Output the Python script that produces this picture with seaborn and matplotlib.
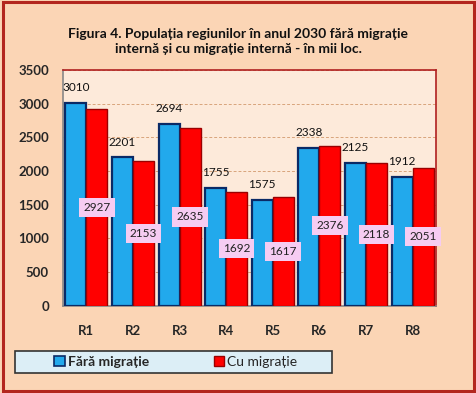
import pandas as pd
import matplotlib
matplotlib.use("Agg")
import matplotlib.pyplot as plt
from matplotlib.patches import Rectangle, Patch
import seaborn as sns

# === Data
regions = ["R1", "R2", "R3", "R4", "R5", "R6", "R7", "R8"]
fara_migratie = [3010, 2201, 2694, 1755, 1575, 2338, 2125, 1912]
cu_migratie = [2927, 2153, 2635, 1692, 1617, 2376, 2118, 2051]
series_names = ["Fără migrație", "Cu migrație"]
title = "Figura 4. Populația regiunilor în anul 2030 fără migrație\ninternă și cu migrație internă - în mii loc."

df = pd.DataFrame({
    "regiune": regions * 2,
    "serie": [series_names[0]] * len(regions) + [series_names[1]] * len(regions),
    "valoare": fara_migratie + cu_migratie,
})

# === Style
sns.set_style("white")
plt.rcParams["font.family"] = ["Lato", "DejaVu Sans"]

fig_bg = "#FBD5B5"
plot_bg = "#FDEADA"
blue = "#22A9EC"
red = "#FF0000"

fig = plt.figure(figsize=(4.77, 3.93), dpi=100, facecolor=fig_bg)
ax = fig.add_axes([0.132, 0.222, 0.782, 0.600])
ax.set_facecolor(plot_bg)

sns.barplot(data=df, x="regiune", y="valoare", hue="serie", order=regions,
            hue_order=series_names, palette=[blue, red], width=0.9, gap=0,
            saturation=1, legend=False, ax=ax)

# edges per series
for cont, ec, lw in zip(ax.containers, ["#0A2A66", "#9A0000"], [1.6, 1.0]):
    for bar in cont:
        bar.set_edgecolor(ec)
        bar.set_linewidth(lw)
        bar.set_zorder(3)

# === Labels: blue above bars, red in pink boxes at mid-height
for bar, v in zip(ax.containers[0], fara_migratie):
    ax.annotate(str(v), (bar.get_x() + bar.get_width() / 2, v),
                xytext=(0, 11), textcoords="offset points",
                ha="center", va="center", fontsize=8.5, color="#111111", zorder=5)
for bar, v in zip(ax.containers[1], cu_migratie):
    ax.text(bar.get_x() + bar.get_width() / 2, v / 2, str(v),
            ha="center", va="center", fontsize=8.5, color="#222222", zorder=5,
            bbox=dict(boxstyle="square,pad=0.35", facecolor="#F6CCF2", edgecolor="none"))

# === Axes
ax.set_ylim(0, 3500)
ax.set_xlim(-0.5, len(regions) - 0.5)
ax.set_yticks(range(0, 3501, 500))
ax.yaxis.grid(True, linestyle=(0, (3, 2)), color="#D8A47C", linewidth=0.7)
ax.set_axisbelow(True)
ax.set_xlabel("")
ax.set_ylabel("")

ax.set_xticks(range(len(regions)))
ax.set_xticklabels(regions, fontweight="bold", fontsize=9.5)
ax.set_xticks([i - 0.5 for i in range(len(regions) + 1)], minor=True)
ax.tick_params(axis="x", which="major", length=0, pad=14)
ax.tick_params(axis="x", which="minor", length=4, color="#888888", width=1)
ax.tick_params(axis="y", length=4, color="#888888", width=1, pad=6)
for lab in ax.get_yticklabels():
    lab.set_fontweight("bold")
    lab.set_fontsize(9.5)

ax.spines["left"].set_color("#888888")
ax.spines["bottom"].set_color("#888888")
ax.spines["left"].set_linewidth(1.2)
ax.spines["bottom"].set_linewidth(1.2)
ax.spines["top"].set_color("#B02020")
ax.spines["right"].set_color("#B02020")
ax.spines["top"].set_linewidth(1.2)
ax.spines["right"].set_linewidth(1.2)

# === Title
fig.text(0.5, 0.895, title, ha="center", va="center", fontsize=10,
         fontweight="bold", linespacing=1.35, color="#111111")

# === Legend with its own box
fig.patches.append(Rectangle((15 / 477, 1 - 373 / 393), 317 / 477, 22 / 393,
                             transform=fig.transFigure, facecolor="#DCEEF6",
                             edgecolor="#333333", linewidth=1.2, zorder=1))
handles = [Patch(facecolor=blue, edgecolor="#0A2A66", linewidth=1.2),
           Patch(facecolor=red, edgecolor="#9A0000", linewidth=1.0)]
leg = fig.legend(handles, series_names, loc="center", ncol=2,
                 bbox_to_anchor=(176 / 477, 1 - 362 / 393), frameon=False,
                 handlelength=0.75, handleheight=0.75, handletextpad=0.25,
                 columnspacing=4.6, fontsize=10)
leg.get_texts()[0].set_fontweight("bold")
leg.set_zorder(2)

# === Outer border
fig.patches.append(Rectangle((0.006, 0.006), 0.988, 0.988, transform=fig.transFigure,
                             facecolor="none", edgecolor="#B3261E", linewidth=2.2))

fig.savefig("out.png", dpi=100, facecolor=fig_bg)
